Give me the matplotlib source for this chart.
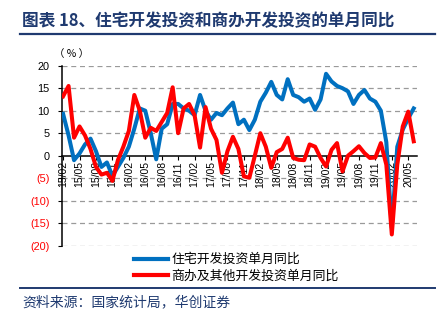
import matplotlib
matplotlib.use("Agg")
import matplotlib.pyplot as plt
from matplotlib.lines import Line2D

plt.rcParams['font.family'] = ['Noto Sans CJK SC', 'DejaVu Sans']

# monthly single-month yoy, 2015/02 .. 2020/06
months = [f"{y:02d}/{m:02d}" for y in range(15, 21) for m in range(1, 13)][1:66]

residential = [9.3, 4.5, -1.0, 0.5, 2.5, 3.8, 1.0, -2.5, -1.5, -4.5,
               -2.5, -0.5, 2.0, 6.0, 10.5, 10.0, 5.0, -0.8, 6.0, 7.0,
               11.5, 11.5, 10.5, 10.0, 9.0, 13.5, 10.0, 8.0, 9.5, 9.0,
               10.5, 11.8, 7.0, 8.0, 5.7, 8.0, 12.0, 14.0, 16.4, 13.5,
               12.5, 17.0, 13.5, 13.0, 12.0, 12.7, 10.2, 12.5, 18.2, 16.5,
               15.5, 15.0, 14.3, 11.5, 13.5, 14.6, 12.7, 12.0, 10.0, 3.0,
               -16.0, 2.0, 5.8, 8.3, 10.5]

commercial = [13.2, 15.5, 4.0, 6.5, 4.5, 1.5, -2.5, -4.2, -3.8, -5.6,
              -1.0, 2.0, 5.5, 13.5, 10.0, 4.0, 6.2, 5.5, 7.5, 9.5,
              15.2, 5.0, 10.5, 11.5, 9.0, 1.8, 10.8, 6.0, 3.5, -3.8,
              1.0, 4.2, 1.5, -4.6, -4.9, 0.0, 5.0, 2.0, -2.7, 0.8,
              1.5, 4.0, -0.5, -0.9, -1.0, 2.5, 2.0, -0.5, -2.4, 1.3,
              2.8, -3.5, 0.0, 1.0, 2.1, 0.6, -0.5, -0.4, 2.8, -2.0,
              -17.5, -2.0, 6.5, 9.8, 3.2]

series_names = ["住宅开发投资单月同比", "商办及其他开发投资单月同比"]
yticks = [20, 15, 10, 5, 0, -5, -10, -15, -20]

navy = "#1f3a70"
blue = "#0070C0"
red = "#FF0000"

fig = plt.figure(figsize=(4.42, 3.23), dpi=100)
ax = fig.add_axes([62 / 442, 1 - 245.7 / 323, (417 - 62) / 442, (245.7 - 65.7) / 323])

x = list(range(len(months)))
for yv in yticks:
    if yv != 0:
        ax.axhline(yv, color="#9a9a9a", lw=0.9, ls=(0, (4, 3)), zorder=1)
ax.plot(x, residential, color=blue, lw=2.9, zorder=3, solid_joinstyle="round")
ax.plot(x, commercial, color=red, lw=2.9, zorder=4, solid_joinstyle="round")

ax.set_xlim(-0.2, 64.6)
ax.set_ylim(-20, 20)
ax.spines['top'].set_visible(False)
ax.spines['right'].set_visible(False)
ax.spines['bottom'].set_position(('data', 0))
ax.spines['bottom'].set_linewidth(1.1)
ax.spines['left'].set_linewidth(1.1)

ax.set_xticks(x[::3])
ax.set_xticklabels(months[::3], rotation=90, fontsize=7.5, family='Liberation Sans')
ax.tick_params(axis='x', length=3, width=0.8, pad=1)
ax.set_yticks(yticks)
ax.set_yticklabels([str(v) if v >= 0 else f"({-v})" for v in yticks],
                   fontsize=7.8, family='Liberation Sans')
ax.tick_params(axis='y', length=3, width=0.8, pad=6)
for lab, v in zip(ax.get_yticklabels(), yticks):
    lab.set_color(red if v < 0 else "black")

fig.text(54 / 442, 1 - 54 / 323, "（ % ）", fontsize=7.5, va="center")

handles = [Line2D([], [], color=blue, lw=3), Line2D([], [], color=red, lw=3)]
fig.legend(handles, series_names, loc="center", bbox_to_anchor=(0.535, 1 - 268 / 323),
           frameon=False, fontsize=9.3, handlelength=2.6, labelspacing=0.3,
           handletextpad=0.3, borderpad=0)

fig.text(22 / 442, 1 - 21 / 323, "图表 18、住宅开发投资和商办开发投资的单月同比",
         fontsize=12, weight="bold", color=navy, va="center")
fig.add_artist(Line2D([20 / 442, 435 / 442], [1 - 34 / 323] * 2, color=navy, lw=1.6))
fig.add_artist(Line2D([20 / 442, 435 / 442], [1 - 288 / 323] * 2, color=navy, lw=1.4))
fig.text(22 / 442, 1 - 302 / 323, "资料来源：国家统计局，华创证券",
         fontsize=10, color=navy, style="italic", va="center")

fig.savefig("out.png", dpi=100)
